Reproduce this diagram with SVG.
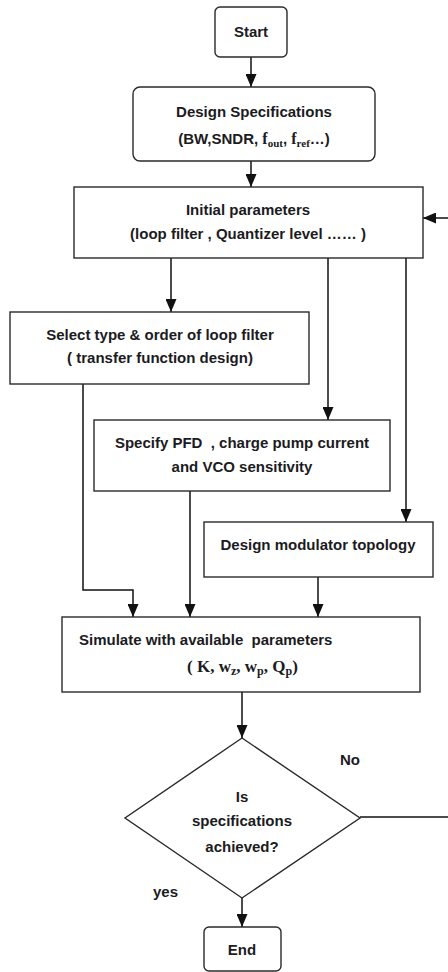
<svg xmlns="http://www.w3.org/2000/svg" width="448" height="972" viewBox="0 0 448 972">
<defs>
<marker id="arr" markerUnits="userSpaceOnUse" markerWidth="13" markerHeight="11" viewBox="0 0 13 11" refX="13" refY="5.5" orient="auto">
<path d="M0,0 L13,5.5 L0,11 z" fill="#111"/>
</marker>
<style>
.box{fill:#fff;stroke:#2a2a2a;stroke-width:1.4}
.t{font-family:"Liberation Sans",Arial,sans-serif;font-weight:bold;font-size:15px;fill:#1b1b22;white-space:pre}
.c{text-anchor:middle}
.s{font-family:"Liberation Serif","Times New Roman",serif;font-weight:bold}
.f{font-size:16px}
.sub{font-size:11px}
.big{font-size:17px}
.sub2{font-size:12px}
.ln{fill:none;stroke:#111;stroke-width:1.5}
</style>
</defs>
<rect width="448" height="972" fill="#fff"/>
<g id="connectors">
<path class="ln" d="M251,57 V87" marker-end="url(#arr)"/>
<path class="ln" d="M251,161 V187" marker-end="url(#arr)"/>
<path class="ln" d="M171,258 V312" marker-end="url(#arr)"/>
<path class="ln" d="M328,258 V420" marker-end="url(#arr)"/>
<path class="ln" d="M406,258 V522" marker-end="url(#arr)"/>
<path class="ln" d="M83,384 V590 H133 V617" marker-end="url(#arr)"/>
<path class="ln" d="M190,491 V617" marker-end="url(#arr)"/>
<path class="ln" d="M318,577 V617" marker-end="url(#arr)"/>
<path class="ln" d="M242,692 V738" marker-end="url(#arr)"/>
<path class="ln" d="M242,898 V927" marker-end="url(#arr)"/>
<path class="ln" d="M360,817 H448"/>
<path class="ln" d="M448,218 H423" marker-end="url(#arr)"/>
<text class="t" x="340" y="765">No</text>
<text class="t" x="153" y="897">yes</text>
</g>
<g id="start">
<rect class="box" x="215" y="7" width="72" height="50" rx="5"/>
<text class="t c" x="251" y="37">Start</text>
</g>
<g id="design-specs">
<rect class="box" x="133" y="87" width="242" height="74" rx="7"/>
<text class="t c" x="254" y="117">Design Specifications</text>
<text class="t c" x="254" y="144">(BW,SNDR, <tspan class="s f">f</tspan><tspan class="s sub" dy="3">out</tspan><tspan dy="-3">, </tspan><tspan class="s f">f</tspan><tspan class="s sub" dy="3">ref</tspan><tspan dy="-3">…)</tspan></text>
</g>
<g id="initial-params">
<rect class="box" x="74" y="187" width="349" height="71"/>
<text class="t c" x="248" y="215">Initial parameters</text>
<text class="t c" x="248" y="239">(loop filter , Quantizer level …… )</text>
</g>
<g id="select-filter">
<rect class="box" x="10" y="312" width="299" height="72"/>
<text class="t c" x="160" y="340">Select type &amp; order of loop filter</text>
<text class="t c" x="160" y="363">( transfer function design)</text>
</g>
<g id="specify-pfd">
<rect class="box" x="94" y="420" width="296" height="71"/>
<text class="t c" x="242" y="448">Specify PFD  , charge pump current</text>
<text class="t c" x="242" y="472">and VCO sensitivity</text>
</g>
<g id="modulator">
<rect class="box" x="204" y="522" width="229" height="55"/>
<text class="t c" x="318" y="550">Design modulator topology</text>
</g>
<g id="simulate">
<rect class="box" x="62" y="617" width="358" height="75"/>
<text class="t" x="79" y="645">Simulate with available  parameters</text>
<text class="t s big" x="187" y="672">( K, w<tspan class="sub2" dy="3">z</tspan><tspan dy="-3">, w</tspan><tspan class="sub2" dy="3">p</tspan><tspan dy="-3">, Q</tspan><tspan class="sub2" dy="3">p</tspan><tspan dy="-3">)</tspan></text>
</g>
<g id="decision">
<polygon class="box" points="242,738 360,818 242,898 125,818"/>
<text class="t c" x="242" y="802">Is</text>
<text class="t c" x="242" y="826">specifications</text>
<text class="t c" x="242" y="852">achieved?</text>
</g>
<g id="end">
<rect class="box" x="204" y="927" width="77" height="44" rx="5"/>
<text class="t c" x="242" y="955">End</text>
</g>
</svg>
